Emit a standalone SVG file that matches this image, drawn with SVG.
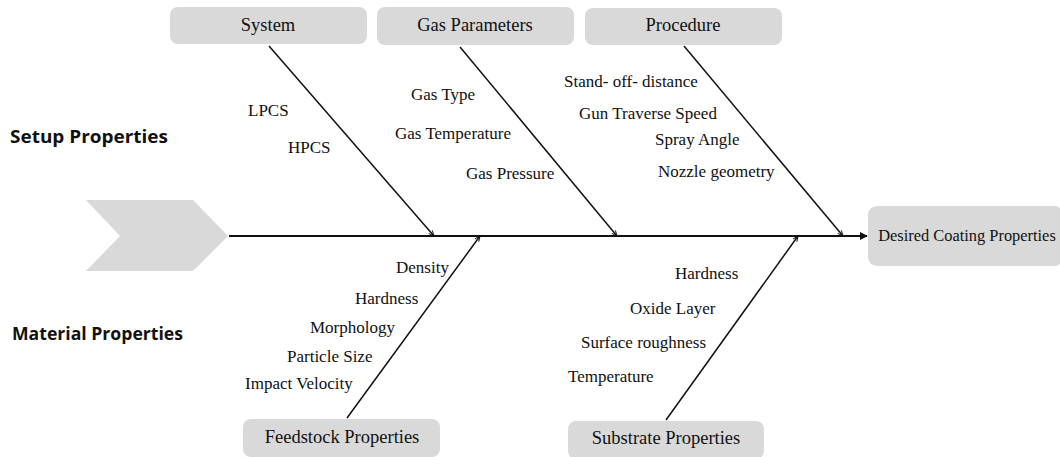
<svg xmlns="http://www.w3.org/2000/svg" width="1060" height="457" viewBox="0 0 1060 457">
<defs>
<style>
.box{fill:#d9d9d9;}
.bt{font-family:"Liberation Serif",serif;font-size:18.5px;fill:#111;text-anchor:middle;}
.lb{font-family:"Liberation Serif",serif;font-size:17px;fill:#111;}
.hd{font-family:"Open Sans",sans-serif;font-weight:bold;font-size:18px;fill:#111;}
.bone{stroke:#111;stroke-width:1.5;fill:none;marker-end:url(#sm);}
.spine{stroke:#111;stroke-width:2.2;fill:none;marker-end:url(#big);}
</style>
<marker id="sm" viewBox="0 0 10 10" refX="10" refY="5" markerWidth="6" markerHeight="6" markerUnits="userSpaceOnUse" orient="auto"><path d="M1,1 L10,5 L1,9" fill="none" stroke="#111" stroke-width="1.5"/></marker>
<marker id="big" viewBox="0 0 10 10" refX="9" refY="5" markerWidth="8" markerHeight="8" markerUnits="userSpaceOnUse" orient="auto"><path d="M0,0 L10,5 L0,10 Z" fill="#111"/></marker>
</defs>
<g id="start"><polygon points="86,200 193,200 228,236 193,271 86,271 120,236" fill="#d9d9d9"/></g>
<g id="headings">
<text class="hd" x="10" y="143" textLength="158" lengthAdjust="spacingAndGlyphs">Setup Properties</text>
<text class="hd" x="12" y="340" textLength="171" lengthAdjust="spacingAndGlyphs">Material Properties</text>
</g>
<g id="connectors">
<line class="spine" x1="229" y1="236" x2="867" y2="236"/>
<line class="bone" x1="269" y1="46" x2="434" y2="236"/>
<line class="bone" x1="460" y1="47" x2="617" y2="236"/>
<line class="bone" x1="684" y1="46" x2="843" y2="236"/>
<line class="bone" x1="347" y1="418" x2="480" y2="236"/>
<line class="bone" x1="666" y1="420" x2="798" y2="236"/>
</g>
<g id="system"><rect class="box" x="170" y="7" width="197" height="37" rx="8"/><text class="bt" x="268" y="31">System</text></g>
<g id="gas-parameters"><rect class="box" x="377" y="7" width="197" height="38" rx="8"/><text class="bt" x="475" y="31">Gas Parameters</text></g>
<g id="procedure"><rect class="box" x="585" y="8" width="197" height="37" rx="8"/><text class="bt" x="683" y="31">Procedure</text></g>
<g id="desired"><rect class="box" x="868" y="206" width="195" height="60" rx="9"/><text class="bt" x="967" y="241" style="font-size:16.4px">Desired Coating Properties</text></g>
<g id="feedstock"><rect class="box" x="243" y="419" width="197" height="38" rx="8"/><text class="bt" x="342" y="443">Feedstock Properties</text></g>
<g id="substrate"><rect class="box" x="568" y="421" width="196" height="38" rx="8"/><text class="bt" x="666" y="444">Substrate Properties</text></g>
<g id="labels">
<text class="lb" x="248" y="116">LPCS</text>
<text class="lb" x="288" y="153">HPCS</text>
<text class="lb" x="411" y="100">Gas Type</text>
<text class="lb" x="395" y="139">Gas Temperature</text>
<text class="lb" x="466" y="179">Gas Pressure</text>
<text class="lb" x="564" y="87">Stand- off- distance</text>
<text class="lb" x="579" y="119">Gun Traverse Speed</text>
<text class="lb" x="655" y="145">Spray Angle</text>
<text class="lb" x="658" y="177">Nozzle geometry</text>
<text class="lb" x="396" y="273">Density</text>
<text class="lb" x="355" y="304">Hardness</text>
<text class="lb" x="310" y="333">Morphology</text>
<text class="lb" x="287" y="362">Particle Size</text>
<text class="lb" x="245" y="389">Impact Velocity</text>
<text class="lb" x="675" y="279">Hardness</text>
<text class="lb" x="630" y="314">Oxide Layer</text>
<text class="lb" x="581" y="348">Surface roughness</text>
<text class="lb" x="568" y="382">Temperature</text>
</g>
</svg>
